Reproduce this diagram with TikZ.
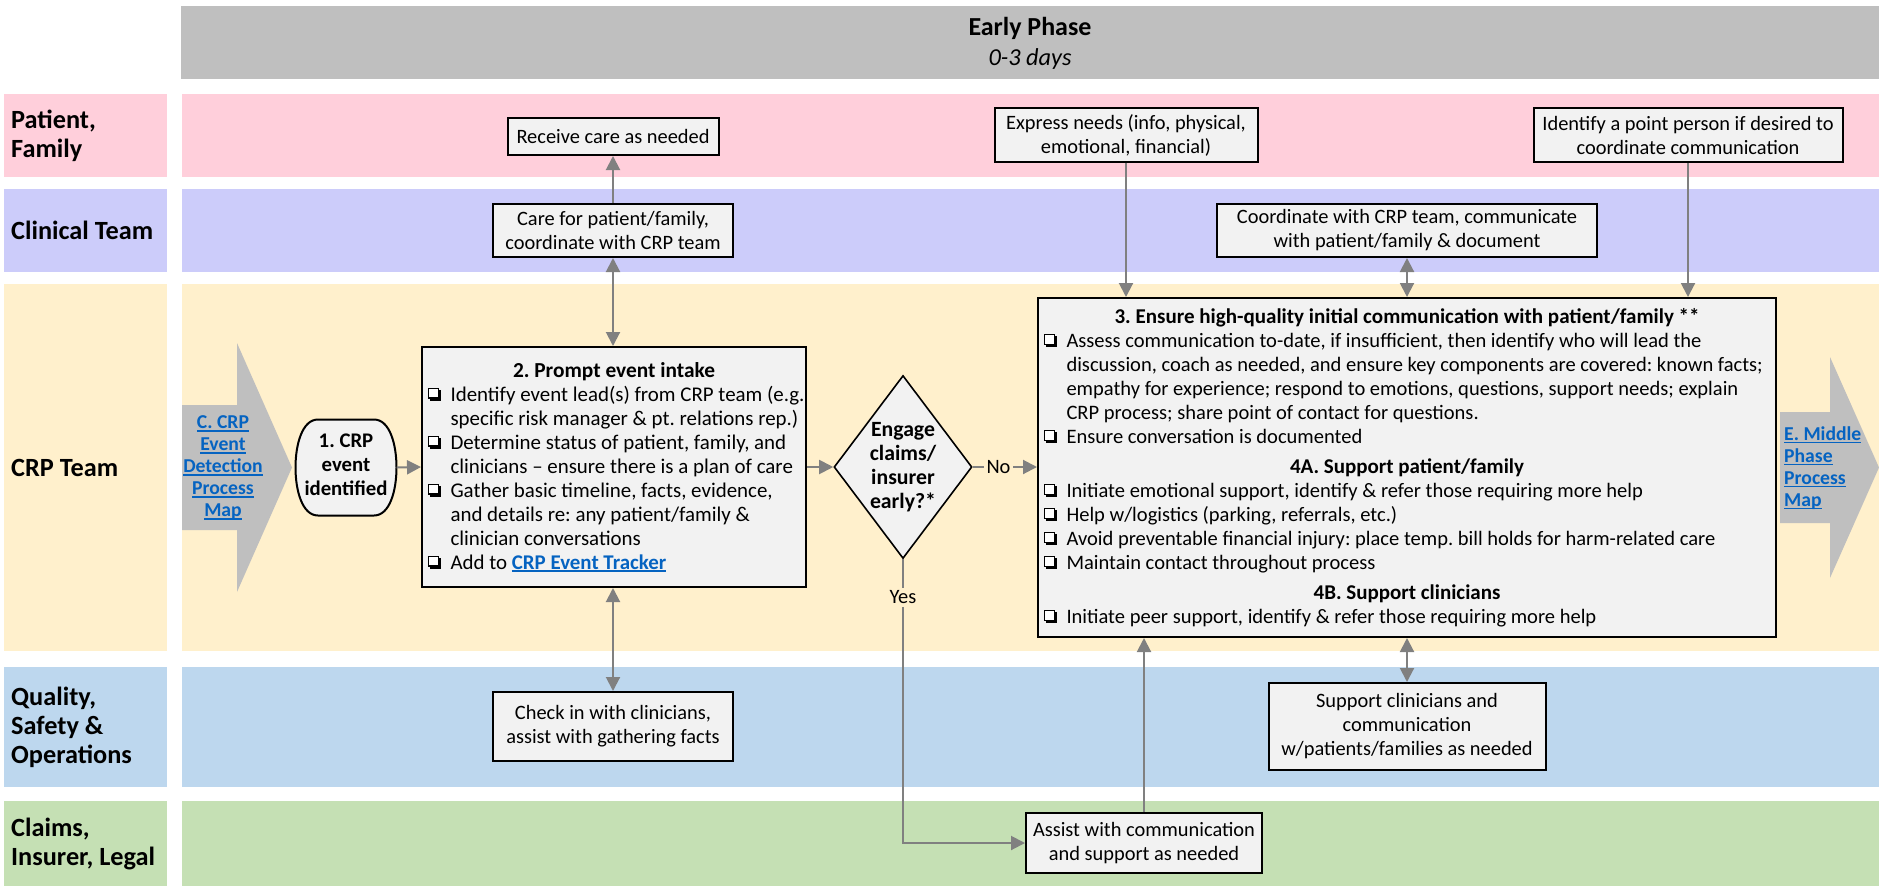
\documentclass[tikz,border=0pt]{standalone}
\usepackage{fontspec}
\setmainfont{Carlito}
\usetikzlibrary{shapes.geometric,arrows.meta,calc}
\frenchspacing

\definecolor{hdrgray}{HTML}{BFBFBF}
\definecolor{lanepink}{HTML}{FFCFDB}
\definecolor{lanelav}{HTML}{CCCCFA}
\definecolor{lanecream}{HTML}{FFF0CC}
\definecolor{laneblue}{HTML}{BDD7EE}
\definecolor{lanegreen}{HTML}{C5E0B4}
\definecolor{boxfill}{HTML}{F2F2F2}
\definecolor{arrgray}{HTML}{808080}
\definecolor{linkblue}{HTML}{0563C1}
\definecolor{chevgray}{HTML}{BFBFBF}

% shadowed checkbox bullet (shadow bottom sits on the baseline)
\newcommand\cbglyph{\makebox[14pt][l]{%
  \rlap{\hspace*{2.3pt}\rule{11pt}{11pt}}%
  \rlap{\textcolor{white}{\rule[2.3pt]{11pt}{11pt}}}%
  \rlap{\rule[2.3pt]{11pt}{1.4pt}}%
  \rlap{\rule[11.9pt]{11pt}{1.4pt}}%
  \rlap{\rule[2.3pt]{1.4pt}{11pt}}%
  \rlap{\hspace*{9.6pt}\rule[2.3pt]{1.4pt}{11pt}}}}
\newcommand\cb{\makebox[22.5pt][l]{\cbglyph}}
\newcommand\ind{\hspace*{22.5pt}}
% fixed-width rows for the two checklist boxes
\newcommand\rowA[1]{\makebox[372pt][l]{#1}}
\newcommand\rowB[1]{\makebox[726pt][l]{#1}}
% underlined hyperlink-style text
\newcommand\lnk[1]{{\color{linkblue}\bfseries\setbox0\hbox{#1}\rlap{\rule[-3pt]{\wd0}{1.6pt}}\box0}}
% font size that sets a sample text to a given width
\newcommand\fitfont[4]{%
  \setbox0=\hbox{#2\fontsize{20}{24}\selectfont #4}%
  \edef\tmpw{\the\wd0}%
  \pgfmathsetmacro#1{#3/\tmpw*20}}

\begin{document}
\fitfont\fsIntake{}{354}{Identify event lead(s) from CRP team (e.g.}%
\fitfont\fsBig{}{635}{Assess communication to-date, if insufficient, then identify who will lead the}%
\fitfont\fsSmall{}{193}{Receive care as needed}%
\fitfont\fsLane{\bfseries}{142}{Clinical Team}%
\fitfont\fsHead{\bfseries}{123}{Early Phase}%
\fitfont\fsDays{\itshape}{83}{0-3 days}%
\fitfont\fsTitleA{\bfseries}{202}{2. Prompt event intake}%
\fitfont\fsTitleB{\bfseries}{585}{3. Ensure high-quality initial communication with patient/family **}%
\fitfont\fsSub{\bfseries}{234}{4A. Support patient/family}%
\fitfont\fsTerm{\bfseries}{83}{identified}%
\fitfont\fsDec{\bfseries}{64}{Engage}%
\fitfont\fsLink{\bfseries}{79.5}{Detection}%
\newcommand\hA[1]{\makebox[372pt][c]{\bfseries\fontsize{\fsTitleA}{24}\selectfont #1}}%
\newcommand\hB[1]{\makebox[726pt][c]{\bfseries\fontsize{\fsTitleB}{24}\selectfont #1}}%
\newcommand\hS[1]{\makebox[726pt][c]{\bfseries\fontsize{\fsSub}{24}\selectfont #1}}%
\begin{tikzpicture}[x=1pt,y=-1pt,
  box/.style={draw=black, line width=2pt, fill=boxfill, inner sep=0pt, align=center,
    font=\fontsize{\fsSmall}{24}\selectfont},
  listbox/.style={draw=black, line width=2pt, fill=boxfill, inner xsep=6pt, inner ysep=0pt, align=left},
  arr/.style={draw=arrgray, line width=2pt, -{Triangle[length=14pt,width=14pt]}},
  darr/.style={draw=arrgray, line width=2pt, {Triangle[length=14pt,width=14pt]}-{Triangle[length=14pt,width=14pt]}},
  lanelbl/.style={anchor=west, align=left, inner sep=0pt, font=\fontsize{\fsLane}{29}\selectfont\bfseries},
  flowlbl/.style={fill=lanecream, inner sep=3pt, font=\fontsize{\fsSmall}{24}\selectfont},
  chevtxt/.style={inner sep=0pt, font=\fontsize{\fsLink}{22}\selectfont},
]
\useasboundingbox (0,0) rectangle (1879,886);

% phase header
\fill[hdrgray] (181,6) rectangle (1879,79);
\node[align=center, inner sep=0pt, font=\fontsize{\fsHead}{30}\selectfont] (phase) at (1030,43)
  {\textbf{Early Phase}\\{\itshape\fontsize{\fsDays}{30}\selectfont 0-3 days}};

% swimlanes: label cell and lane body
\fill[lanepink]  (4,94)  rectangle (167,177);  \fill[lanepink]  (182,94)  rectangle (1879,177);
\fill[lanelav]   (4,189) rectangle (167,272);  \fill[lanelav]   (182,189) rectangle (1879,272);
\fill[lanecream] (4,284) rectangle (167,651);  \fill[lanecream] (182,284) rectangle (1879,651);
\fill[laneblue]  (4,667) rectangle (167,787);  \fill[laneblue]  (182,667) rectangle (1879,787);
\fill[lanegreen] (4,801) rectangle (167,886);  \fill[lanegreen] (182,801) rectangle (1879,886);

\node[lanelbl] (lpat)  at (11,136)   {Patient,\\Family};
\node[lanelbl] (lclin) at (11,230.5) {Clinical Team};
\node[lanelbl] (lcrp)  at (11,467.5) {CRP Team};
\node[lanelbl] (lqual) at (11,727)   {Quality,\\Safety \&\\Operations};
\node[lanelbl] (lclm)  at (11,843.5) {Claims,\\Insurer, Legal};

% off-page connectors
\fill[chevgray] (182,405) -- (237,405) -- (237,343) -- (292,467.5) -- (237,592) -- (237,530) -- (182,530) -- cycle;
\node[chevtxt, align=center] (prevmap) at (223,468)
  {\lnk{C. CRP}\\\lnk{Event}\\\lnk{Detection}\\\lnk{Process}\\\lnk{Map}};
\fill[chevgray] (1780,412) -- (1830,412) -- (1830,357) -- (1879,467.5) -- (1830,578) -- (1830,523) -- (1780,523) -- cycle;
\node[chevtxt, align=left, anchor=west] (nextmap) at (1784,468)
  {\lnk{E. Middle}\\\lnk{Phase}\\\lnk{Process}\\\lnk{Map}};

% patient / family
\node[box, minimum width=211pt, minimum height=37pt] (recv) at (613,136.5) {Receive care as needed};
\node[box, minimum width=263pt, minimum height=54pt] (expr) at (1126,135) {Express needs (info, physical,\\emotional, financial)};
\node[box, minimum width=309pt, minimum height=54pt] (pointp) at (1688,135) {Identify a point person if desired to\\coordinate communication};

% clinical team
\node[box, minimum width=240pt, minimum height=53pt] (care) at (613,230.5) {Care for patient/family,\\coordinate with CRP team};
\node[box, minimum width=380pt, minimum height=53pt] (coord) at (1407,230.5) {Coordinate with CRP team, communicate\\with patient/family \& document};

% CRP team: start terminator
\node[minimum width=101pt, minimum height=96pt, inner sep=0pt] (term) at (346,467.5) {};
\draw[line width=2pt, fill=boxfill] (318,419.5) -- (374,419.5)
  .. controls (390,419.5) and (396.5,445) .. (396.5,467.5)
  .. controls (396.5,490) and (390,515.5) .. (374,515.5) -- (318,515.5)
  .. controls (302,515.5) and (295.5,490) .. (295.5,467.5)
  .. controls (295.5,445) and (302,419.5) .. (318,419.5) -- cycle;
\node[align=center, inner sep=0pt, font=\fontsize{\fsTerm}{24}\selectfont\bfseries] (termt) at (346,465)
  {1. CRP\\event\\identified};

\node[listbox, minimum height=240pt, font=\fontsize{\fsIntake}{24}\selectfont] (intake) at (614,467) {%
\hA{2. Prompt event intake}\\
\rowA{\cb Identify event lead(s) from CRP team (e.g.}\\
\rowA{\ind specific risk manager \& pt. relations rep.)}\\
\rowA{\cb Determine status of patient, family, and}\\
\rowA{\ind clinicians – ensure there is a plan of care}\\
\rowA{\cb Gather basic timeline, facts, evidence,}\\
\rowA{\ind and details re: any patient/family \&}\\
\rowA{\ind clinician conversations}\\
\rowA{\cb Add to \lnk{CRP Event Tracker}}};

\node[draw=black, line width=1.6pt, fill=boxfill, diamond, minimum width=138pt, minimum height=183pt,
  inner sep=0pt] (dec) at (903,467) {};
\node[align=center, inner sep=0pt, font=\fontsize{\fsDec}{24}\selectfont\bfseries] (dect) at (903,467)
  {Engage\\claims/\\insurer\\early?*};

\node[listbox, minimum height=339pt, font=\fontsize{\fsBig}{24}\selectfont] (b3) at (1407,467.5) {%
\hB{3. Ensure high-quality initial communication with patient/family **}\\
\rowB{\cb Assess communication to-date, if insufficient, then identify who will lead the}\\
\rowB{\ind discussion, coach as needed, and ensure key components are covered: known facts;}\\
\rowB{\ind empathy for experience; respond to emotions, questions, support needs; explain}\\
\rowB{\ind CRP process; share point of contact for questions.}\\
\rowB{\cb Ensure conversation is documented}\\[6pt]
\hS{4A. Support patient/family}\\
\rowB{\cb Initiate emotional support, identify \& refer those requiring more help}\\
\rowB{\cb Help w/logistics (parking, referrals, etc.)}\\
\rowB{\cb Avoid preventable financial injury: place temp. bill holds for harm-related care}\\
\rowB{\cb Maintain contact throughout process}\\[6pt]
\hS{4B. Support clinicians}\\
\rowB{\cb Initiate peer support, identify \& refer those requiring more help}};

% quality, safety & operations
\node[box, minimum width=240pt, minimum height=69pt] (check) at (613,726.5) {Check in with clinicians,\\assist with gathering facts};
\node[box, minimum width=277pt, minimum height=87pt] (supp) at (1407,726.5) {Support clinicians and\\communication\\w/patients/families as needed};

% claims, insurer, legal
\node[box, minimum width=236pt, minimum height=60pt] (assist) at (1144,843) {Assist with communication\\and support as needed};

% connectors
\draw[arr]  (care.north) -- (recv.south);
\draw[darr] (care.south) -- (intake.north -| care.south);
\draw[darr] (intake.south -| check.north) -- (check.north);
\draw[arr]  (expr.south) -- (expr.south |- b3.north);
\draw[arr]  (pointp.south) -- (pointp.south |- b3.north);
\draw[darr] (coord.south) -- (coord.south |- b3.north);
\draw[darr] (b3.south -| supp.north) -- (supp.north);
\draw[arr]  (term.east) -- (intake.west);
\draw[arr]  (intake.east) -- (dec.west);
\draw[arr]  (dec.east) -- node[flowlbl, pos=0.4] (nolbl) {No} (dec.east -| b3.west);
\draw[arr]  (dec.south) |- node[flowlbl, pos=0.067] (yeslbl) {Yes} (assist.west);
\draw[arr]  (assist.north) -- (assist.north |- b3.south);
\end{tikzpicture}
\end{document}
